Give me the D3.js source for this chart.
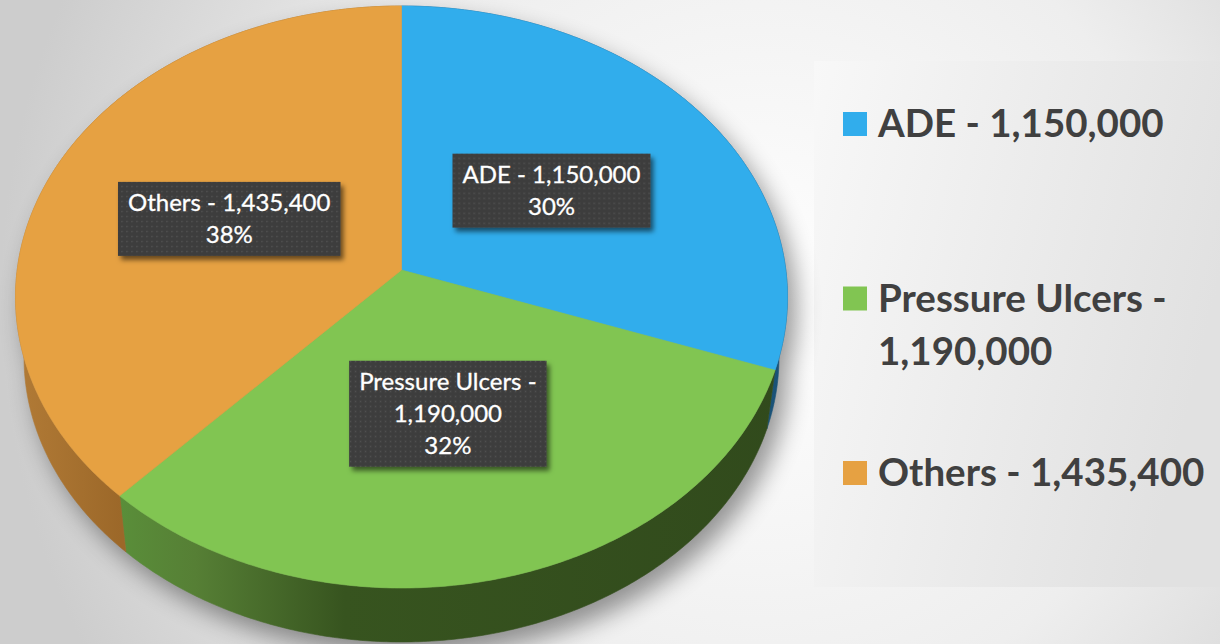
<!DOCTYPE html>
<html>
<head>
<meta charset="utf-8">
<script src="https://cdn.jsdelivr.net/npm/d3@7"></script>
<style>
  html, body { margin: 0; padding: 0; background: #e4e4e4; }
  svg { display: block; }
</style>
</head>
<body>
<svg id="chart" width="1220" height="644"></svg>
<script>
// ── Data ──────────────────────────────────────────────────────────────
const categories = ['ADE', 'Pressure Ulcers', 'Others'];
const values     = [1150000, 1190000, 1435400];
const legendText = [['ADE - 1,150,000'], ['Pressure Ulcers -', '1,190,000'], ['Others - 1,435,400']];
const labelText  = [['ADE - 1,150,000', '30%'], ['Pressure Ulcers -', '1,190,000', '32%'], ['Others - 1,435,400', '38%']];

const topColors  = ['#31adec', '#81c552', '#e6a142'];

const W = 1220, H = 644;
const svg  = d3.select('#chart');
const defs = svg.append('defs');

// ── Background ────────────────────────────────────────────────────────
const bg = defs.append('radialGradient').attr('id', 'bg')
  .attr('gradientUnits', 'userSpaceOnUse')
  .attr('cx', 760).attr('cy', 300).attr('r', 760);
bg.append('stop').attr('offset', 0).attr('stop-color', '#ffffff');
bg.append('stop').attr('offset', 0.55).attr('stop-color', '#eeeeee');
bg.append('stop').attr('offset', 1).attr('stop-color', '#cdcdcd');
svg.append('rect').attr('width', W).attr('height', H).attr('fill', 'url(#bg)');

// legend panel
const lg = defs.append('linearGradient').attr('id', 'legendBg')
  .attr('x1', 0).attr('y1', 0).attr('x2', 1).attr('y2', 0.3);
lg.append('stop').attr('offset', 0).attr('stop-color', '#f8f8f8');
lg.append('stop').attr('offset', 1).attr('stop-color', '#e1e1e1');
svg.append('rect').attr('x', 814).attr('y', 61).attr('width', 420).attr('height', 526)
  .attr('fill', 'url(#legendBg)');

// ── Projection of the tilted disk ─────────────────────────────────────
// disk coords: u to the right, w toward viewer; angle clockwise from top
const X0 = 401.5, Y0 = 270, A = 384.3, B = 288.5, K = 0.0928;
const S  = 0.978;                       // bottom disk is a bit smaller
const Y1 = 642 - S * B / (1 - K);

function proj(a, r, bottom) {
  const u = r * Math.sin(a), w = -r * Math.cos(a);
  const d = 1 - K * w;
  if (bottom) return [X0 + S * A * u / d, Y1 + S * B * w / d];
  return [X0 + A * u / d, Y0 + B * w / d];
}
function rim(a0, a1, bottom) {
  const n = Math.max(2, Math.ceil((a1 - a0) / 0.01));
  return d3.range(n + 1).map(i => proj(a0 + (a1 - a0) * i / n, 1, bottom));
}

const pie  = d3.pie().sort(null).value(d => d)(values);
const line = d3.line();

// ── Shadow ────────────────────────────────────────────────────────────
const sh = defs.append('filter').attr('id', 'pieShadow')
  .attr('x', -0.2).attr('y', -0.2).attr('width', 1.4).attr('height', 1.4);
sh.append('feGaussianBlur').attr('stdDeviation', 12);

svg.append('path')
  .attr('d', line(rim(0, 2 * Math.PI, false)) + 'Z' + line(rim(0, 2 * Math.PI, true)) + 'Z')
  .attr('transform', 'translate(9,13)')
  .attr('fill', '#000').attr('opacity', 0.4)
  .attr('filter', 'url(#pieShadow)');

// ── Side walls ────────────────────────────────────────────────────────
const wallStops = [
  [['0', '#1f5f8a'], ['1', '#1a5277']],
  [['0', '#5a8f3a'], ['0.12', '#567f35'], ['0.34', '#37541f'], ['1', '#314a1c']],
  [['0', '#b37c37'], ['0.14', '#9c6829'], ['1', '#9c6829']]
];
wallStops.forEach((stops, i) => {
  const g = defs.append('linearGradient').attr('id', 'wall' + i)
    .attr('gradientUnits', 'userSpaceOnUse')
    .attr('x1', i === 1 ? 115 : 10).attr('y1', 0)
    .attr('x2', i === 1 ? 790 : 800).attr('y2', 0);
  stops.forEach(([o, c]) => g.append('stop').attr('offset', o).attr('stop-color', c));
});

svg.append('g').selectAll('path')
  .data(pie)
  .join('path')
  .attr('d', d => line(rim(d.startAngle, d.endAngle, false)
                .concat(rim(d.startAngle, d.endAngle, true).reverse())) + 'Z')
  .attr('fill', (d, i) => `url(#wall${i})`)
  .attr('stroke', (d, i) => `url(#wall${i})`)
  .attr('stroke-width', 0.6);

// ── Top face ──────────────────────────────────────────────────────────
const centre = proj(0, 0, false);
svg.append('g').selectAll('path')
  .data(pie)
  .join('path')
  .attr('d', d => line([centre].concat(rim(d.startAngle, d.endAngle, false))) + 'Z')
  .attr('fill', (d, i) => topColors[i])
  .attr('stroke', (d, i) => topColors[i])
  .attr('stroke-width', 0.6);

// ── Data labels ───────────────────────────────────────────────────────
const pat = defs.append('pattern').attr('id', 'dots')
  .attr('patternUnits', 'userSpaceOnUse').attr('width', 5).attr('height', 5);
pat.append('rect').attr('width', 5).attr('height', 5).attr('fill', '#3e3e3e');
pat.append('rect').attr('x', 2).attr('y', 2).attr('width', 1.3).attr('height', 1.3).attr('fill', '#555555');

const ds = defs.append('filter').attr('id', 'boxShadow')
  .attr('x', -0.1).attr('y', -0.1).attr('width', 1.3).attr('height', 1.4);
ds.append('feDropShadow').attr('dx', 3).attr('dy', 4).attr('stdDeviation', 2.5)
  .attr('flood-color', '#000').attr('flood-opacity', 0.55);

const lineH = 32;
const labels = svg.append('g').selectAll('g')
  .data(pie)
  .join('g')
  .attr('transform', d => {
    const [x, y] = proj((d.startAngle + d.endAngle) / 2, 0.49, false);
    return `translate(${x},${y})`;
  });

labels.each(function (d, i) {
  const g = d3.select(this);
  const lines = labelText[i];
  const box = g.append('rect').attr('fill', 'url(#dots)').attr('filter', 'url(#boxShadow)');
  const text = g.append('text')
    .attr('text-anchor', 'middle')
    .attr('fill', '#ffffff')
    .style('font-family', 'Lato, "Open Sans", sans-serif')
    .style('font-size', '24px')
    .style('stroke', '#ffffff')
    .style('stroke-width', 0.3);
  lines.forEach((s, j) => {
    text.append('tspan')
      .attr('x', 0)
      .attr('y', (j - (lines.length - 1) / 2) * lineH + 8)
      .text(s);
  });
  const tw = text.node().getBBox().width;
  const bw = tw + 20, bh = lines.length * lineH + 10;
  box.attr('x', -bw / 2).attr('y', -bh / 2).attr('width', bw).attr('height', bh);
});

// ── Legend ────────────────────────────────────────────────────────────
const legend = svg.append('g').selectAll('g')
  .data(categories)
  .join('g')
  .attr('transform', (d, i) => `translate(843,${137 + i * 174.5})`);

legend.append('rect')
  .attr('x', 0).attr('y', -25).attr('width', 24).attr('height', 24)
  .attr('fill', (d, i) => topColors[i]);

legend.append('text')
  .attr('fill', '#404040')
  .style('font-family', 'Lato, "Open Sans", sans-serif')
  .style('font-weight', 700)
  .style('font-size', '38.5px')
  .each(function (d, i) {
    const t = d3.select(this);
    legendText[i].forEach((s, j) => {
      t.append('tspan').attr('x', 35).attr('y', j * 53).text(s);
    });
  });
</script>
</body>
</html>
